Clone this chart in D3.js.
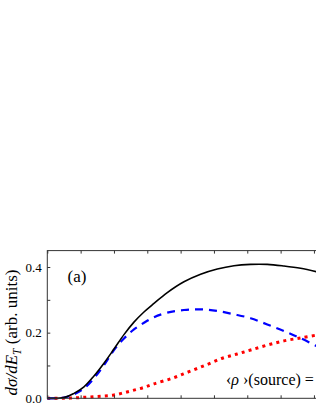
<!DOCTYPE html>
<html><head><meta charset="utf-8">
<script src="https://cdn.jsdelivr.net/npm/d3@7"></script>
<style>
html,body{margin:0;padding:0;background:#fff;}
svg{display:block;}
</style></head>
<body>
<svg id="chart" width="316" height="409"></svg>
<script>
// Data
const energy = [0, 0.5, 0.8, 1.1, 1.4, 1.7, 2.0, 2.3, 2.6, 2.9, 3.2, 3.6, 4.1, 4.6, 5.1, 5.6, 6.1, 6.6, 7.1, 7.6, 8.1];
const totalCurve = [0, 0.002, 0.015, 0.035, 0.068, 0.107, 0.15, 0.194, 0.232, 0.263, 0.289, 0.322, 0.355, 0.378, 0.394, 0.404, 0.408, 0.408, 0.403, 0.396, 0.385];
const blueCurve  = [0, 0.002, 0.012, 0.03, 0.061, 0.101, 0.147, 0.182, 0.21, 0.23, 0.247, 0.261, 0.269, 0.271, 0.266, 0.256, 0.244, 0.225, 0.205, 0.183, 0.158];
const redEnergy  = [0, 0.5, 0.8, 1.1, 1.4, 1.7, 2.0, 2.3, 2.6, 2.9, 3.2, 3.75, 4.25, 4.75, 5.25, 5.7, 6.1, 6.6, 7.1, 7.6, 8.1];
const redCurve   = [0, 0, 0.001, 0.003, 0.005, 0.007, 0.01, 0.017, 0.025, 0.033, 0.044, 0.061, 0.081, 0.101, 0.122, 0.135, 0.147, 0.162, 0.175, 0.184, 0.193];
const xTicks = [0, 1, 2, 3, 4, 5, 6, 7, 8];
const yMajorTicks = [0.0, 0.2, 0.4];
const yMinorTicks = [0.1, 0.3];
const yLabelParts = ["dσ/dE", "T", " (arb. units)"];
const panelLabel = "(a)";

(function(){
const FONT = "Liberation Serif";
const svg = d3.select("#chart");
const mLeft = 47.3, mBottom = 398.3, mTop = 250.6;
const x = d3.scaleLinear().domain([0, 8.1]).range([mLeft, mLeft + 8.1 * 33.33]);
const y = d3.scaleLinear().domain([0, 0.45]).range([mBottom, mTop]);

const line = d3.line().curve(d3.curveCatmullRom.alpha(0.5));
function pts(xs, ys){ return xs.map((e,i)=>[x(e), y(ys[i])]); }

// curves
svg.append("path").attr("d", line(pts(redEnergy, redCurve)))
  .attr("fill","none").attr("stroke","#ff0000").attr("stroke-width",3)
  .attr("stroke-dasharray","3 4.2");
svg.append("path").attr("d", line(pts(energy, blueCurve)))
  .attr("fill","none").attr("stroke","#0000ff").attr("stroke-width",2.2)
  .attr("stroke-dasharray","8 6");
svg.append("path").attr("d", line(pts(energy, totalCurve)))
  .attr("fill","none").attr("stroke","#000").attr("stroke-width",1.6);

// frame
svg.append("rect").attr("x", mLeft).attr("y", mTop)
  .attr("width", x(8.1)-mLeft).attr("height", mBottom-mTop)
  .attr("fill","none").attr("stroke","#333").attr("stroke-width",1);

// axes (ticks inward)
const xb = d3.axisBottom(x).tickValues(xTicks).tickSizeInner(-3).tickSizeOuter(0).tickFormat("");
svg.append("g").attr("transform",`translate(0,${mBottom})`).call(xb)
  .call(g=>{g.select(".domain").remove(); g.selectAll("line").attr("stroke","#333");});
const xt = d3.axisTop(x).tickValues(xTicks).tickSizeInner(-3).tickSizeOuter(0).tickFormat("");
svg.append("g").attr("transform",`translate(0,${mTop})`).call(xt)
  .call(g=>{g.select(".domain").remove(); g.selectAll("line").attr("stroke","#333");});

const yl = d3.axisLeft(y).tickValues(yMajorTicks.concat(yMinorTicks)).tickSizeInner(-3).tickSizeOuter(0)
  .tickFormat(d => yMajorTicks.includes(d) ? d3.format(".1f")(d) : "").tickPadding(5.5);
svg.append("g").attr("transform",`translate(${mLeft},0)`).call(yl)
  .call(g=>{
    g.attr("font-family", FONT).attr("font-size", 13);
    g.select(".domain").remove();
    g.selectAll("line").attr("stroke","#333");
    g.selectAll("text").attr("fill","#000");
  });

// y label, sized to span the same length as the reference
const ylab = svg.append("text")
  .attr("transform","translate(17,332.5) rotate(-90)")
  .attr("font-family", FONT)
  .attr("text-anchor","middle").attr("font-size",15);
ylab.append("tspan").attr("font-style","italic").text(yLabelParts[0]);
const sub = ylab.append("tspan").attr("font-style","italic").attr("dy",3).text(yLabelParts[1]);
const rest = ylab.append("tspan").attr("dy",-3).text(yLabelParts[2]);
let fs = 15 * 129 / ylab.node().getComputedTextLength();
ylab.attr("font-size", fs);
sub.attr("font-size", fs*0.68).attr("dy", fs*0.22);
rest.attr("dy", -fs*0.22);

// panel label
svg.append("text").attr("x",67.5).attr("y",281.5).attr("font-family", FONT).attr("font-size",17).text(panelLabel);

// bottom annotation
const ann = svg.append("text").attr("x",226).attr("y",385).attr("font-family", FONT).attr("font-size",15);
ann.append("tspan").text("‹");
ann.append("tspan").attr("font-style","italic").text("ρ");
ann.append("tspan").text(" ›(source) =");
const afs = 15 * 88 / ann.node().getComputedTextLength();
ann.attr("font-size", afs);
})();
</script>
</body></html>
